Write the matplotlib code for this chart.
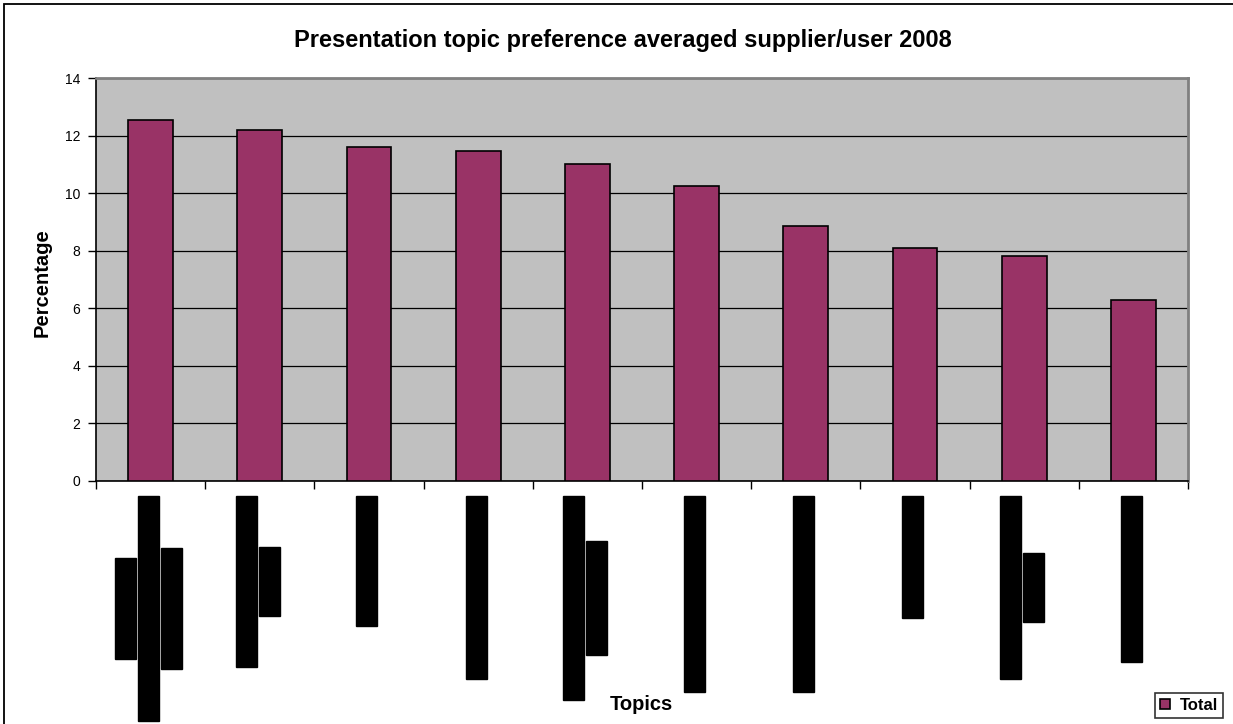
import matplotlib
matplotlib.use("Agg")
import matplotlib.pyplot as plt
from matplotlib.patches import Rectangle
import numpy as np

plt.rcParams['font.family'] = ['Liberation Sans', 'DejaVu Sans']

title = "Presentation topic preference averaged supplier/user 2008"
y_label = "Percentage"
x_label = "Topics"
series_name = "Total"
values = [12.55, 12.2, 11.6, 11.45, 11.0, 10.25, 8.85, 8.1, 7.8, 6.3]
# Category labels are redacted (blacked out) in the reference; placeholder text per line
category_lines = [
    ["Redacted labe", "Redacted topic label text here no", "Redacted label te"],
    ["Redacted topic label text", "Redacted"],
    ["Redacted topic lab"],
    ["Redacted topic label text h"],
    ["Redacted topic label text here", "Redacted label t"],
    ["Redacted topic label text her"],
    ["Redacted topic label text her"],
    ["Redacted topic la"],
    ["Redacted topic label text h", "Redacted"],
    ["Redacted topic label tex"],
]
y_ticks = [0, 2, 4, 6, 8, 10, 12, 14]

W, H = 1233, 724
fig = plt.figure(figsize=(W / 100, H / 100), dpi=100)
fig.patch.set_facecolor('white')

# outer chart border (cropped at right/bottom in the reference)
fig.add_artist(Rectangle((3.5 / W, -0.1), 1.2, 1 - 4.5 / H + 0.1, transform=fig.transFigure,
                         fill=False, edgecolor='black', linewidth=1.3))

ax = fig.add_axes([96 / W, 1 - 481 / H, (1188 - 96) / W, (481 - 78) / H])
ax.set_facecolor('#C0C0C0')

x = np.arange(len(values))
ax.bar(x, values, width=0.41, color='#993366', edgecolor='black', linewidth=1.2,
       zorder=3, label=series_name)

ax.set_xlim(-0.5, len(values) - 0.5)
ax.set_ylim(0, 14)
ax.set_yticks(y_ticks)
ax.set_yticklabels([str(t) for t in y_ticks], fontsize=10)
ax.yaxis.grid(True, color='black', linewidth=0.9, zorder=1)
ax.set_axisbelow(True)

ax.set_xticks(np.arange(len(values) + 1) - 0.5)
ax.set_xticklabels([])
ax.tick_params(axis='x', direction='out', length=6, width=1, color='black')
ax.tick_params(axis='y', direction='out', length=6, width=1, color='black', pad=5.5)

for s in ['left', 'bottom']:
    ax.spines[s].set_color('black')
    ax.spines[s].set_linewidth(1.2)
for s in ['top', 'right']:
    ax.spines[s].set_color('#808080')
    ax.spines[s].set_linewidth(2)

# redacted category labels: one black-boxed rotated text per line
line_step_pt = 23 * 72 / 100
fig.canvas.draw()
renderer = fig.canvas.get_renderer()
for i, lines in enumerate(category_lines):
    n = len(lines)
    objs = []
    for j, ln in enumerate(lines):
        dx = (j - (n - 1) / 2) * line_step_pt - 1.5
        t = ax.annotate(ln, xy=(x[i], 0), xycoords=('data', 'axes fraction'),
                        xytext=(dx, 0), textcoords='offset points',
                        rotation=90, ha='center', va='center', fontsize=10,
                        fontweight='bold', color='black', annotation_clip=False,
                        bbox=dict(boxstyle='square,pad=0.25', fc='black', ec='black'))
        objs.append(t)
    fig.canvas.draw()
    maxh = max(o.get_bbox_patch().get_window_extent(renderer).height for o in objs)
    for j, o in enumerate(objs):
        dx = o.xyann[0]
        o.xyann = (dx, -(15 + maxh / 2) * 72 / 100)

fig.text(623 / W, 1 - 40 / H, title, ha='center', va='center', fontsize=17,
         fontweight='bold')
fig.text(42 / W, 1 - 283 / H, y_label, ha='center', va='center', rotation=90,
         fontsize=14.5, fontweight='bold')
fig.text(641 / W, 1 - 704 / H, x_label, ha='center', va='center', fontsize=14.5,
         fontweight='bold')

leg = fig.legend(loc='lower left', bbox_to_anchor=(1155 / W, 1 - 718 / H),
                 frameon=True, fancybox=False, edgecolor='black',
                 prop={'weight': 'bold', 'size': 12}, handlelength=0.6,
                 handleheight=0.6, handletextpad=0.6, borderpad=0.3,
                 borderaxespad=0)
leg.get_frame().set_linewidth(1.2)

fig.savefig('out.png', dpi=100)
